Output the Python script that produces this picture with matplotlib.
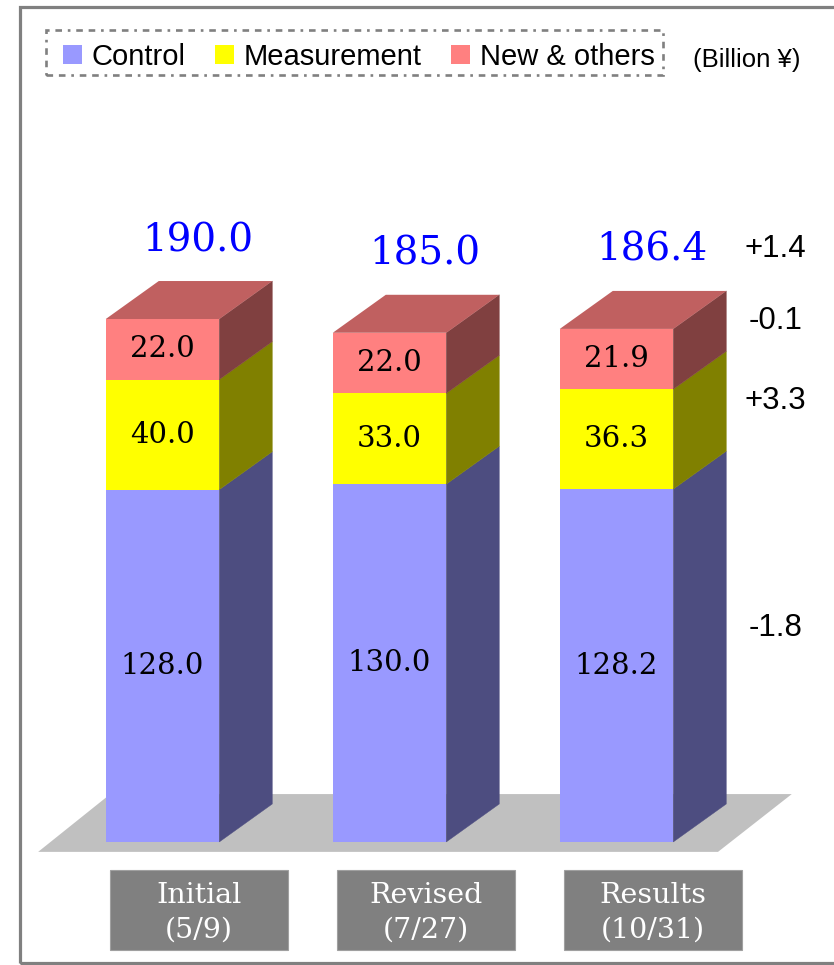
import matplotlib.pyplot as plt
from matplotlib.patches import Polygon, Rectangle, Patch

categories = ['Initial\n(5/9)', 'Revised\n(7/27)', 'Results\n(10/31)']
series = ['Control', 'Measurement', 'New & others']
control = [128.0, 130.0, 128.2]
measurement = [40.0, 33.0, 36.3]
new_others = [22.0, 22.0, 21.9]
unit_label = '(Billion ¥)'

front_colors = ['#9999FF', '#FFFF00', '#FF8080']
side_colors = ['#4D4D80', '#808000', '#804040']
top_color = '#C06060'

W, H = 834, 965
fig = plt.figure(figsize=(W / 100, H / 100), dpi=100)
ax = fig.add_axes([0, 0, 1, 1])
ax.set_xlim(-0.716, 2.958)
ax.set_ylim(-44.7, 305.9)
ax.axis('off')

# outer frame (right side runs off the canvas)
fig.add_artist(Rectangle((20 / W, 2 / H), 1.0, 1 - 9 / H, transform=fig.transFigure,
                         fill=False, edgecolor='#808080', linewidth=2.3))

n = len(categories)
xs = list(range(n))
bw = 0.5
ddx, ddy = 0.2335, 13.8

# floor
fl, fr = -0.25 - 0.298, (n - 1) + 0.25 + 0.197
ax.add_patch(Polygon([(fl, -3.6), (fr, -3.6), (fr + 0.325, 17.4), (fl + 0.318, 17.4)],
                     closed=True, facecolor='#C0C0C0', edgecolor='none', zorder=1))

stack = [control, measurement, new_others]
totals = [sum(v) for v in zip(*stack)]

for i in xs:
    bottom = 0
    for s, vals in enumerate(stack):
        v = vals[i]
        ax.bar(i, v, width=bw, bottom=bottom, color=front_colors[s], edgecolor='none', zorder=2)
        xr = i + bw / 2
        ax.add_patch(Polygon([(xr, bottom), (xr + ddx, bottom + ddy), (xr + ddx, bottom + v + ddy),
                              (xr, bottom + v)], closed=True, facecolor=side_colors[s],
                             edgecolor=side_colors[s], linewidth=0.3, zorder=2))
        ax.text(i, bottom + v / 2, f'{v:.1f}', ha='center', va='center', fontsize=21,
                family='DejaVu Serif', color='black', zorder=3)
        bottom += v
    xl = i - bw / 2
    ax.add_patch(Polygon([(xl, bottom), (xl + bw, bottom), (xl + bw + ddx, bottom + ddy),
                          (xl + ddx, bottom + ddy)], closed=True, facecolor=top_color,
                         edgecolor='none', zorder=2))
    ax.text(i + 0.156, bottom + 28.5, f'{totals[i]:.1f}', ha='center', va='center', fontsize=28,
            family='DejaVu Serif', color='#0000FF')

    # category box
    ax.add_patch(Rectangle((i + 0.16 - 0.392, -39.2), 0.784, 29, facecolor='#808080',
                           edgecolor='#A0A0A0', linewidth=0.8, zorder=2))
    ax.text(i + 0.16, -25.6, categories[i], ha='center', va='center', fontsize=20.5,
            family='DejaVu Serif', color='white', linespacing=1.36, zorder=3)

# change between the last two estimates, per segment and total
last, prev = n - 1, n - 2
bottom = 0
for s, vals in enumerate(stack):
    d = vals[last] - vals[prev]
    ax.text(last + 0.7, bottom + vals[last] / 2 + ddy, f'{d:+.1f}', ha='center', va='center',
            fontsize=22.5, family='Liberation Sans', color='black')
    bottom += vals[last]
ax.text(last + 0.7, totals[last] + 29, f'{totals[last] - totals[prev]:+.1f}', ha='center',
        va='center', fontsize=22.5, family='Liberation Sans', color='black')

handles = [Patch(facecolor=c, edgecolor='none') for c in front_colors]
leg = ax.legend(handles, series, ncol=3, loc='center left',
                bbox_to_anchor=(63 / W, 1 - 57 / H), bbox_transform=fig.transFigure,
                prop={'family': 'Liberation Sans', 'size': 21},
                handlelength=0.65, handleheight=0.65, handletextpad=0.34,
                columnspacing=1.0, borderpad=0, borderaxespad=0, frameon=False)

# dashed legend frame
fig.add_artist(Rectangle((46 / W, 1 - 75 / H), (663 - 46) / W, 45 / H,
                         transform=fig.transFigure, fill=False, edgecolor='#808080',
                         linewidth=1.9, linestyle=(0, (2.5, 2.2, 2.5, 2.2, 1.0, 2.2))))

fig.text(747 / W, 1 - 60 / H, unit_label, ha='center', va='center', fontsize=18.5,
         family='Liberation Sans')

fig.savefig('out.png', dpi=100)
